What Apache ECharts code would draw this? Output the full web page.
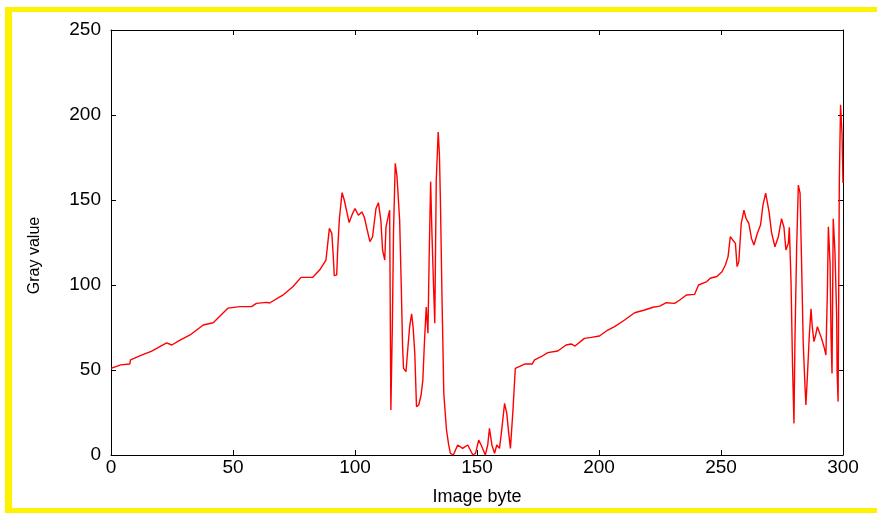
<!DOCTYPE html>
<html>
<head>
<meta charset="utf-8">
<script src="https://cdn.jsdelivr.net/npm/echarts@6/dist/echarts.min.js"></script>
<style>
  html, body { margin: 0; padding: 0; background: #fff; }
  #chart { width: 877px; height: 513px; }
</style>
</head>
<body>
<div id="chart"></div>
<script>
var xTicks = [0, 50, 100, 150, 200, 250, 300];
var yTicks = [0, 50, 100, 150, 200, 250];

// image byte position
var byteIdx = [
  0, 4, 7.7, 8, 13, 16.5, 22.8, 24.9, 28.3, 32.4, 37.8, 41.9, 48, 52.8, 57.6, 59.6, 63.7, 65, 70.4, 74.5,
  77.9, 82.7, 85.5, 88.1,
  89.5, 90.5, 91.1, 91.5, 92.5, 92.9, 93.6, 94.7, 95.6, 97.6, 99, 100, 101.4, 102.8, 103.8, 106.1,
  107.2, 108.6, 109.6, 110.6, 111.3, 112.2, 112.7, 113.7, 114.2, 114.7, 115.3, 115.8, 116.5, 117.2, 118.3, 119,
  119.5, 119.9, 120.9, 121.6, 122.4, 123.2, 123.8, 124.5, 125.2, 126.1, 127.1, 127.8, 128.5, 129.2, 129.9, 130.4,
  131, 131.5, 132.2, 132.7, 133.3, 134.1, 134.6, 135, 135.7, 136.4, 137.5, 138.4, 139.1, 139.4, 140.3, 142.1,
  144.1, 146.2, 148.3, 149.4, 150.7, 151.7, 153.4, 154.4, 155.1, 156.1, 157.2, 158.1, 159.2, 159.9, 161.3, 162.2,
  163, 163.7, 164.7, 165.7,
  169.5, 172.6, 173.6, 176.3, 179, 183.1, 186.5, 188.6, 190.2, 194, 196.8, 200.2, 203.6, 206.4, 210.5, 214.6,
  218.7, 222.1, 224.9, 227.6, 231, 233.1, 235.8, 239.2, 240.8, 244.2, 245.6, 248.3, 250.4, 251.8, 252.9,
  253.8, 254.8, 255.9, 256.6, 257.3, 258.3, 259.4, 260.3, 261.4, 262.5, 263.5, 264.9, 266.2, 267.2, 268.3, 269.7,
  270.7, 272.1, 273.5, 274.8, 275.8, 276.6, 277.6, 278, 278.7, 279.3, 279.9, 280.3, 281, 281.7, 282.4, 283,
  283.7, 284.4, 284.8, 285.5, 286.2, 286.9, 287.4, 288.1, 288.8, 289.5, 290.3, 291.2, 292.2, 293, 293.6, 294,
  294.7, 295.1, 295.5, 296, 296.7, 297.4, 297.6, 298, 298.5, 299, 299.6, 300
];

// gray value at each position
var grayVal = [
  51, 53, 53.5, 56, 59, 61, 66, 64.7, 67.6, 70.6, 76.5, 77.8, 86.4, 87.3, 87.3, 89.2, 89.8, 89.4, 94, 99,
  104.5, 104.5, 108.8, 114.7,
  133.3, 130.4, 116.7, 105.5, 106, 120.6, 139, 154.3, 150, 136.7, 142, 145, 141, 143, 140, 125.5,
  128.4, 145, 148.4, 138, 120.6, 114.7, 134, 141, 144, 26.5, 75.5, 132, 171.6, 164, 138, 97,
  63.7, 51, 49, 61.8, 75.5, 83, 75.5, 60, 28.4, 29.4, 35.3, 44, 67.6, 87, 71.6, 116.7,
  160.8, 132, 99, 77.5, 161.8, 190, 176.5, 150, 89, 36, 14.7, 5.9, 1, 0, 0, 5.9,
  3.9, 5.9, 0, 1, 8.8, 5.9, 0, 5.9, 15.7, 5.9, 1, 5.9, 3.9, 11.8, 30.4, 24.5,
  12.7, 3.9, 25.5, 51,
  53.5, 53.5, 55.9, 57.8, 60.2, 61.2, 64.7, 65.3, 64.1, 68.6, 69.2, 70, 73.5, 75.5, 79.4, 83.7,
  85.3, 86.9, 87.6, 89.6, 89.2, 91.2, 94.1, 94.5, 100, 102, 104, 105, 107.8, 111.8, 116.7,
  128.4, 126.5, 124.5, 110.8, 113.7, 136.3, 144, 139, 136.3, 127.4, 123.5, 130.4, 135.3, 147, 154, 143,
  131, 122.5, 128.4, 139, 134, 120.6, 124.5, 134, 102, 54, 18.6, 66.7, 121.6, 158.8, 154, 114.7,
  65.7, 41, 29.4, 49, 70.6, 86, 75.5, 66.7, 70.6, 75.5, 76.5, 68.6, 63.7, 58.8, 96, 134.3,
  112.7, 69.6, 48, 139, 119.6, 82, 48, 31.4, 161.8, 206, 189, 160
];

var seriesData = byteIdx.map(function (x, i) { return [x, grayVal[i]]; });

var chart = echarts.init(document.getElementById('chart'));

var axisCommon = {
  type: 'value',
  splitLine: { show: false },
  axisLine: { show: true, onZero: false, lineStyle: { color: '#000', width: 1 } },
  axisTick: { show: true, inside: true, length: 5, lineStyle: { color: '#000' } }
};

var option = {
  animation: false,
  backgroundColor: '#fff',
  textStyle: { fontFamily: 'Liberation Sans, Arial, sans-serif' },
  grid: { left: 111, right: 34, top: 30, bottom: 58 },
  graphic: [
    { type: 'rect', shape: { x: 5, y: 7, width: 872, height: 5 }, style: { fill: '#fff200' } },
    { type: 'rect', shape: { x: 5, y: 7, width: 7, height: 506 }, style: { fill: '#fff200' } },
    { type: 'rect', shape: { x: 5, y: 508, width: 872, height: 5 }, style: { fill: '#fff200' } }
  ],
  xAxis: [
    Object.assign({}, axisCommon, {
      position: 'bottom', min: xTicks[0], max: xTicks[xTicks.length - 1], interval: 50,
      axisLabel: { color: '#000', fontSize: 19, margin: 3 },
      name: 'Image byte', nameLocation: 'middle', nameGap: 33,
      nameTextStyle: { color: '#000', fontSize: 18 }
    }),
    Object.assign({}, axisCommon, {
      position: 'top', min: xTicks[0], max: xTicks[xTicks.length - 1], interval: 50,
      axisLabel: { show: false }
    })
  ],
  yAxis: [
    Object.assign({}, axisCommon, {
      position: 'left', min: yTicks[0], max: yTicks[yTicks.length - 1], interval: 50,
      axisLabel: { color: '#000', fontSize: 19, margin: 10 },
      name: 'Gray value', nameLocation: 'middle', nameGap: 68,
      nameTextStyle: { color: '#000', fontSize: 16, padding: [0, 0, 0, -26] }
    }),
    Object.assign({}, axisCommon, {
      position: 'right', min: yTicks[0], max: yTicks[yTicks.length - 1], interval: 50,
      axisLabel: { show: false }
    })
  ],
  series: [
    {
      type: 'line',
      xAxisIndex: 0,
      yAxisIndex: 0,
      data: seriesData,
      showSymbol: false,
      lineStyle: { color: '#ff0000', width: 1.4 },
      itemStyle: { color: '#ff0000' }
    }
  ]
};

chart.setOption(option);
</script>
</body>
</html>
